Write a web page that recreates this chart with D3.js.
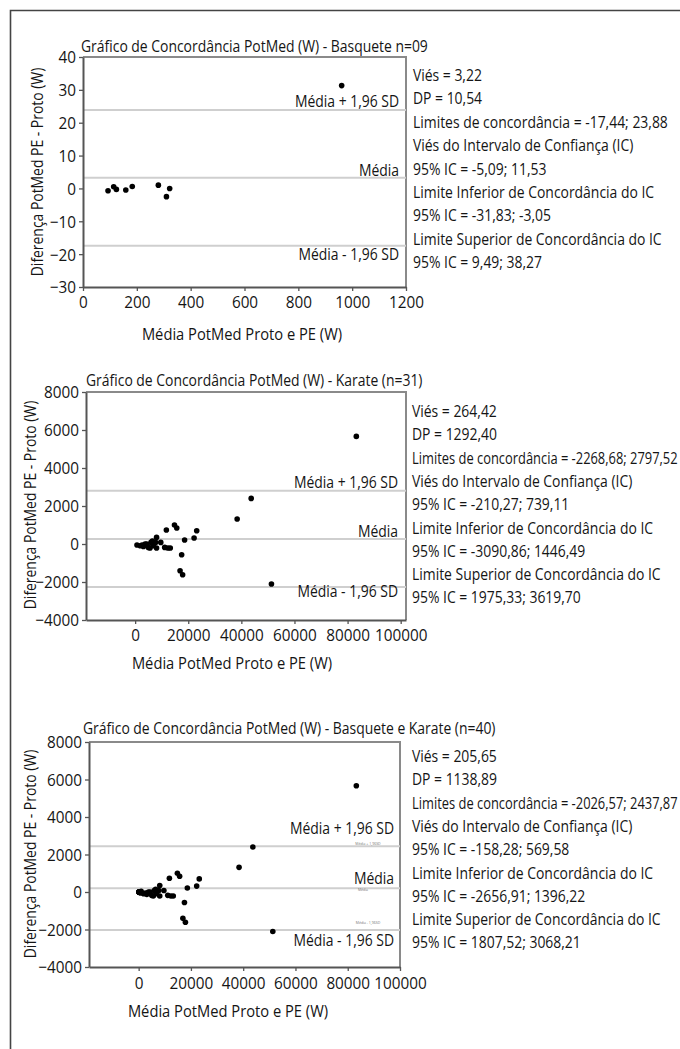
<!DOCTYPE html>
<html>
<head>
<meta charset="utf-8">
<script src="https://cdn.jsdelivr.net/npm/d3@7"></script>
<style>
	body { margin: 0; background: #fff; }
	text { font-family: "Open Sans", sans-serif; fill: #151515; }
</style>
</head>
<body>
<svg id="fig"></svg>
<script>
// DADOS //

// Basquete (n=9): média e diferença PotMed
var basqMedia = [ 93, 114, 124, 159, 183, 280, 310, 322, 961 ];
var basqDif = [ -0.7, 0.5, -0.3, -0.5, 0.6, 1.0, -2.5, 0.0, 31.3 ];

// Karate (n=31)
var karMedia = [ 700, 1920, 2600, 3130, 3760, 4390, 4980, 5600, 5970, 6500, 6820, 7700, 8070, 8070, 9660,
	11140, 12350, 13240, 11760, 14820, 15680, 23190, 22200, 18630, 17520, 16920, 17890,
	83290, 43700, 38420, 51330 ];
var karDif = [ -53, -89, -60, -126, 0, 0, -179, -210, 84, 150, -89, 84, 347, -210, 84,
	-179, -210, -210, 737, 1000, 842, 700, 316, 210, -563, -1405, -1616,
	5663, 2400, 1316, -2105 ];

// linhas: +1,96 SD, média, -1,96 SD
var basqLinhas = [ 23.88, 3.22, -17.44 ];
var karLinhas = [ 2797.52, 264.42, -2268.68 ];
var totLinhas = [ 2437.87, 205.65, -2026.57 ];
var nomesLinhas = [ 'Média + 1,96 SD', 'Média', 'Média - 1,96 SD' ];
var nomesMini = [ 'Média + 1,96SD', 'Média', 'Média - 1,96SD' ];

var basqStats = [ 'Viés = 3,22', 'DP = 10,54', 'Limites de concordância = -17,44; 23,88',
	'Viés do Intervalo de Confiança (IC)', '95% IC = -5,09; 11,53',
	'Limite Inferior de Concordância do IC', '95% IC = -31,83; -3,05',
	'Limite Superior de Concordância do IC', '95% IC = 9,49; 38,27' ];
var karStats = [ 'Viés = 264,42', 'DP = 1292,40', 'Limites de concordância = -2268,68; 2797,52',
	'Viés do Intervalo de Confiança (IC)', '95% IC = -210,27; 739,11',
	'Limite Inferior de Concordância do IC', '95% IC = -3090,86; 1446,49',
	'Limite Superior de Concordância do IC', '95% IC = 1975,33; 3619,70' ];
var totStats = [ 'Viés = 205,65', 'DP = 1138,89', 'Limites de concordância = -2026,57; 2437,87',
	'Viés do Intervalo de Confiança (IC)', '95% IC = -158,28; 569,58',
	'Limite Inferior de Concordância do IC', '95% IC = -2656,91; 1396,22',
	'Limite Superior de Concordância do IC', '95% IC = 1807,52; 3068,21' ];

var basqXTicks = [ 0, 200, 400, 600, 800, 1000, 1200 ];
var basqYTicks = [ -30, -20, -10, 0, 10, 20, 30, 40 ];
var karXTicks = [ 0, 20000, 40000, 60000, 80000, 100000 ];
var karYTicks = [ -4000, -2000, 0, 2000, 4000, 6000, 8000 ];

var titulos = [ 'Gráfico de Concordância PotMed (W) - Basquete n=09',
	'Gráfico de Concordância PotMed (W) - Karate (n=31)',
	'Gráfico de Concordância PotMed (W) - Basquete e Karate (n=40)' ];
var rotuloY = 'Diferença PotMed PE - Proto (W)';
var rotuloX = 'Média PotMed Proto e PE (W)';


// FIGURA //

var W = 680, H = 1049,
	SQ = 0.87, // aperto horizontal do texto
	FS = 16,
	TICK_FS = 17, TICK_SQ = 0.9,
	MAX_X = 678;

var svg = d3.select( '#fig' )
	.attr( 'width', W )
	.attr( 'height', H )
	.attr( 'viewBox', '0 0 ' + W + ' ' + H );

svg.append( 'rect' ).attr( 'width', W ).attr( 'height', H ).attr( 'fill', '#fff' );

// moldura externa (esquerda e topo)
svg.append( 'path' )
	.attr( 'd', 'M10.5,' + H + 'V10.5H' + W )
	.attr( 'fill', 'none' )
	.attr( 'stroke', '#444' )
	.attr( 'stroke-width', 1.6 );

function texto( g, x, y, s, anchor, size, sq ) {
	var k = sq || SQ,
		t = g.append( 'text' )
			.attr( 'text-anchor', anchor || 'start' )
			.style( 'font-size', ( size || FS ) + 'px' )
			.text( s ),
		len = t.node().getComputedTextLength();
	// não deixar passar da borda direita
	if ( ( anchor || 'start' ) === 'start' && x + len * k > MAX_X ) {
		k = ( MAX_X - x ) / len;
	}
	t.attr( 'transform', 'translate(' + x + ',' + y + ') scale(' + k + ',1)' );
	return t;
}

function painel( p ) {
	var g = svg.append( 'g' ),
		x = d3.scaleLinear().domain( p.xDom ).range( p.xRange ),
		y = d3.scaleLinear().domain( p.yDom ).range( p.yRange ),
		x0 = p.xRange[ 0 ], x1 = p.xRange[ 1 ],
		y0 = p.yRange[ 0 ], y1 = p.yRange[ 1 ];

	// topo e direita da área
	g.append( 'path' )
		.attr( 'd', 'M' + x0 + ',' + y1 + 'H' + x1 + 'V' + y0 )
		.attr( 'fill', 'none' )
		.attr( 'stroke', '#8a8a8a' )
		.attr( 'stroke-width', 2 );

	// linhas de concordância
	g.selectAll( 'line.lim' )
		.data( p.linhas )
	  .enter().append( 'line' )
		.attr( 'class', 'lim' )
		.attr( 'x1', x0 )
		.attr( 'x2', x1 )
		.attr( 'y1', function ( d ) { return y( d ); } )
		.attr( 'y2', function ( d ) { return y( d ); } )
		.attr( 'stroke', '#cfcfcf' )
		.attr( 'stroke-width', 2 );

	p.linhas.forEach( function ( d, i ) {
		texto( g, p.labX, y( d ) + p.labDy[ i ], nomesLinhas[ i ], 'end' );
	});

	if ( p.mini ) {
		p.linhas.forEach( function ( d, i ) {
			texto( g, p.mini[ i ], y( d ) + p.miniDy[ i ], nomesMini[ i ], 'middle', 3.5, 1 )
				.style( 'fill', '#777' );
		});
	}

	// eixos
	var ax = g.append( 'g' )
		.attr( 'transform', 'translate(0,' + y0 + ')' )
		.call( d3.axisBottom( x ).tickValues( p.xTicks ).tickSize( 4 ).tickSizeOuter( 0 ).tickPadding( 3 ).tickFormat( d3.format( 'd' ) ) );
	var ay = g.append( 'g' )
		.attr( 'transform', 'translate(' + x0 + ',0)' )
		.call( d3.axisLeft( y ).tickValues( p.yTicks ).tickSize( 4 ).tickSizeOuter( 0 ).tickPadding( 3 ).tickFormat( d3.format( 'd' ) ) );

	[ ax, ay ].forEach( function ( a ) {
		a.select( '.domain' ).attr( 'stroke', '#555' ).attr( 'stroke-width', 2 );
		a.selectAll( '.tick line' ).attr( 'stroke', '#555' ).attr( 'stroke-width', 1.3 );
		a.selectAll( 'text' )
			.style( 'font-family', '"Open Sans", sans-serif' )
			.style( 'font-size', TICK_FS + 'px' )
			.attr( 'fill', '#151515' );
	});
	ax.selectAll( 'text' ).attr( 'dy', null ).attr( 'y', 0 )
		.attr( 'transform', 'translate(0,' + p.xLabDy + ') scale(' + TICK_SQ + ',1)' );
	ay.selectAll( 'text' ).attr( 'dy', '0.35em' ).attr( 'x', null )
		.attr( 'transform', 'translate(-7,0) scale(' + TICK_SQ + ',1)' );

	// pontos
	g.selectAll( 'circle' )
		.data( d3.zip( p.media, p.dif ) )
	  .enter().append( 'circle' )
		.attr( 'cx', function ( d ) { return x( d[ 0 ] ); } )
		.attr( 'cy', function ( d ) { return y( d[ 1 ] ); } )
		.attr( 'r', 2.8 )
		.attr( 'fill', '#000' );

	// textos
	texto( g, p.titulo[ 0 ], p.titulo[ 1 ], p.tituloTxt, 'start' );
	texto( g, 0, 0, rotuloY, 'middle' )
		.attr( 'transform', 'translate(' + p.yLab[ 0 ] + ',' + p.yLab[ 1 ] + ') rotate(-90) scale(' + SQ + ',1)' );
	texto( g, p.xLab[ 0 ], p.xLab[ 1 ], rotuloX, 'middle', FS, 0.92 );

	p.stats.forEach( function ( s, i ) {
		texto( g, p.statX, p.statY + i * p.statStep, s, 'start' );
	});
}

painel({
	media: basqMedia, dif: basqDif, linhas: basqLinhas, stats: basqStats,
	xDom: [ 0, 1200 ], xRange: [ 83, 406 ], yDom: [ -30, 40 ], yRange: [ 287, 57 ],
	xTicks: basqXTicks, yTicks: basqYTicks, xLabDy: 21,
	labX: 399, labDy: [ -3, -2, 14 ],
	tituloTxt: titulos[ 0 ], titulo: [ 81, 52 ],
	yLab: [ 43, 172 ], xLab: [ 242, 340 ],
	statX: 413, statY: 81, statStep: 23.4
});

painel({
	media: karMedia, dif: karDif, linhas: karLinhas, stats: karStats,
	xDom: [ -18500, 102000 ], xRange: [ 86, 406 ], yDom: [ -4000, 8000 ], yRange: [ 620, 392 ],
	xTicks: karXTicks, yTicks: karYTicks, xLabDy: 21,
	labX: 398, labDy: [ -3, -2, 10 ],
	tituloTxt: titulos[ 1 ], titulo: [ 86, 386 ],
	yLab: [ 36, 505 ], xLab: [ 232, 669 ],
	statX: 412, statY: 417, statStep: 23.3
});

painel({
	media: basqMedia.concat( karMedia ), dif: basqDif.concat( karDif ), linhas: totLinhas, stats: totStats,
	xDom: [ -19000, 100000 ], xRange: [ 89, 400 ], yDom: [ -4000, 8000 ], yRange: [ 967, 742 ],
	xTicks: karXTicks, yTicks: karYTicks, xLabDy: 22,
	labX: 394, labDy: [ -12, -4, 16 ],
	mini: [ 368, 363, 368 ], miniDy: [ -1, 2.8, -6 ],
	tituloTxt: titulos[ 2 ], titulo: [ 83, 734 ],
	yLab: [ 36, 854 ], xLab: [ 228, 1017 ],
	statX: 412, statY: 762, statStep: 23.3
});
</script>
</body>
</html>
